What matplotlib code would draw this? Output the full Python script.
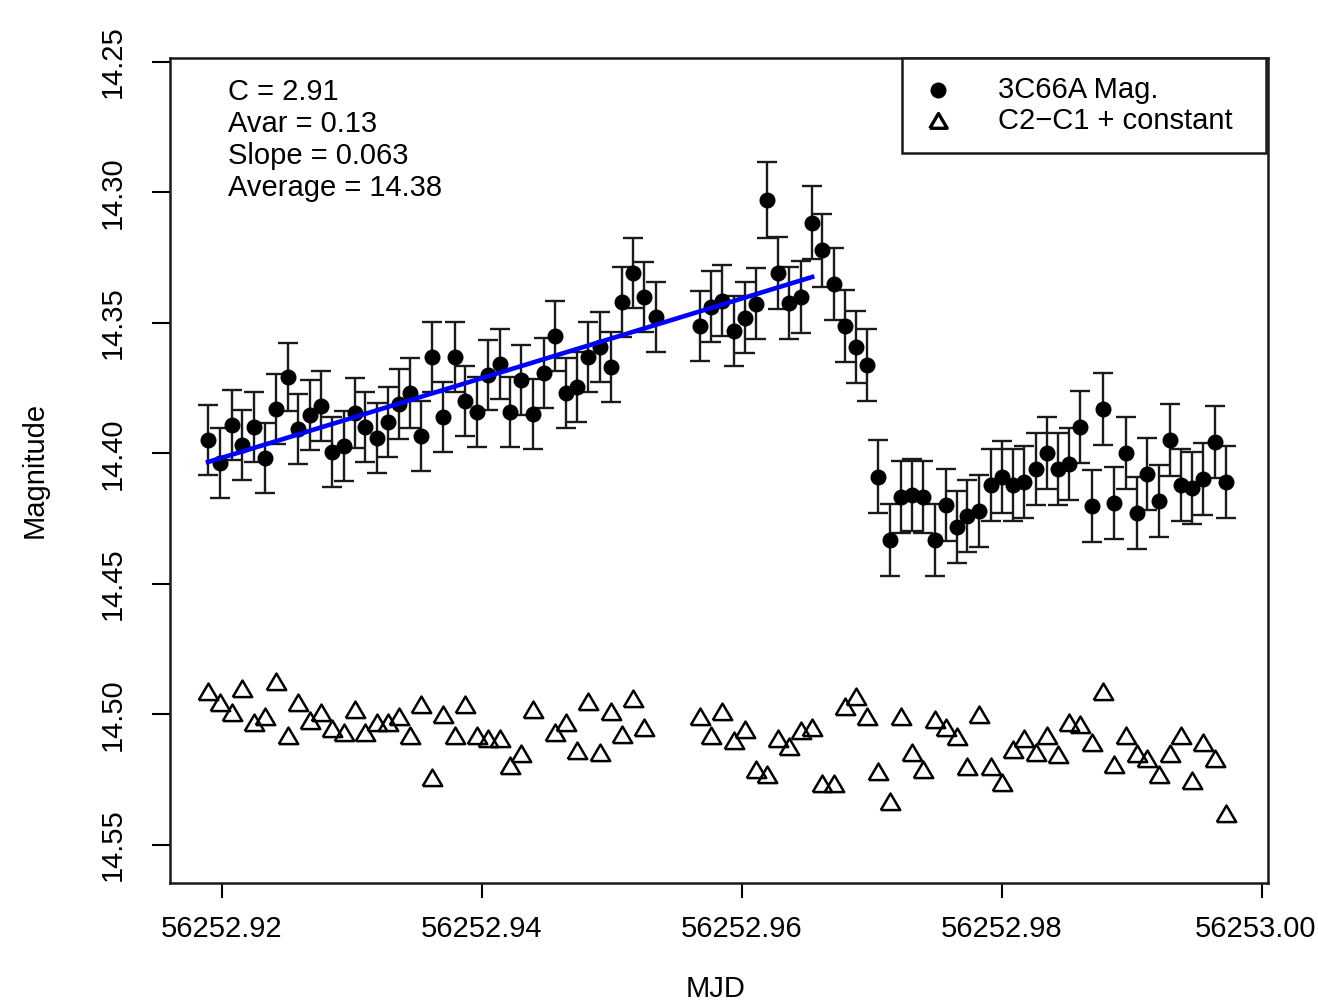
import numpy as np
import matplotlib
matplotlib.use("Agg")
import matplotlib.pyplot as plt
from matplotlib.patches import Rectangle
from matplotlib.lines import Line2D

plt.rcParams['font.family'] = ['Liberation Sans', 'DejaVu Sans']

# time stamps (MJD) of each frame
mjd = [56252.91896, 56252.91988, 56252.92081, 56252.92158, 56252.92250,
       56252.92335, 56252.92419, 56252.92511, 56252.92588, 56252.92681,
       56252.92765, 56252.92850, 56252.92942, 56252.93027, 56252.93104,
       56252.93196, 56252.93280, 56252.93365, 56252.93450, 56252.93534,
       56252.93619, 56252.93703, 56252.93796, 56252.93873, 56252.93965,
       56252.94049, 56252.94142, 56252.94219, 56252.94303, 56252.94395,
       56252.94480, 56252.94565, 56252.94649, 56252.94734, 56252.94818,
       56252.94911, 56252.94995, 56252.95080, 56252.95164, 56252.95249,
       56252.95341,
       56252.95680, 56252.95764, 56252.95849, 56252.95941, 56252.96026,
       56252.96110, 56252.96195, 56252.96280, 56252.96364, 56252.96456,
       56252.96541, 56252.96618, 56252.96710, 56252.96795, 56252.96879,
       56252.96964, 56252.97048, 56252.97141, 56252.97225, 56252.97310,
       56252.97395, 56252.97487, 56252.97571, 56252.97656, 56252.97733,
       56252.97825, 56252.97917, 56252.98002, 56252.98087, 56252.98171,
       56252.98264, 56252.98348, 56252.98433, 56252.98517, 56252.98602,
       56252.98694, 56252.98779, 56252.98863, 56252.98956, 56252.99040,
       56252.99117, 56252.99209, 56252.99294, 56252.99379, 56252.99463,
       56252.99548, 56252.99640, 56252.99725]

# 3C66A magnitude
mag = [14.3948, 14.4036, 14.3891, 14.3967, 14.3899, 14.4017, 14.3830, 14.3707, 14.3906, 14.3853,
       14.3818, 14.3994, 14.3971, 14.3845, 14.3899, 14.3941, 14.3879, 14.3810, 14.3768, 14.3933,
       14.3630, 14.3860, 14.3630, 14.3799, 14.3841, 14.3699, 14.3657, 14.3841, 14.3718, 14.3849,
       14.3692, 14.3550, 14.3768, 14.3745, 14.3630, 14.3592, 14.3669, 14.3420, 14.3309, 14.3401,
       14.3477,
       14.3512, 14.3439, 14.3416, 14.3531, 14.3481, 14.3427, 14.3029, 14.3309, 14.3424, 14.3401,
       14.3117, 14.3221, 14.3351, 14.3512, 14.3592, 14.3661, 14.4090, 14.4331, 14.4167, 14.4159,
       14.4167, 14.4331, 14.4197, 14.4282, 14.4239, 14.4220, 14.4121, 14.4090, 14.4121, 14.4109,
       14.4059, 14.3998, 14.4059, 14.4040, 14.3899, 14.4201, 14.3830, 14.4190, 14.3998, 14.4228,
       14.4079, 14.4182, 14.3948, 14.4121, 14.4132, 14.4098, 14.3956, 14.4109]

# 1-sigma errors on mag
err = [0.0134, 0.0134, 0.0133, 0.0133, 0.0133, 0.0133, 0.0133, 0.0131, 0.0133, 0.0133,
       0.0133, 0.0133, 0.0133, 0.0133, 0.0133, 0.0133, 0.0133, 0.0133, 0.0133, 0.0133,
       0.0133, 0.0133, 0.0133, 0.0133, 0.0133, 0.0133, 0.0133, 0.0133, 0.0133, 0.0133,
       0.0133, 0.0133, 0.0133, 0.0133, 0.0133, 0.0133, 0.0133, 0.0135, 0.0135, 0.0135,
       0.0135,
       0.0135, 0.0136, 0.0136, 0.0136, 0.0136, 0.0136, 0.0144, 0.0138, 0.0138, 0.0138,
       0.0140, 0.0140, 0.0138, 0.0138, 0.0138, 0.0138, 0.0140, 0.0138, 0.0138, 0.0138,
       0.0138, 0.0138, 0.0138, 0.0138, 0.0138, 0.0138, 0.0138, 0.0138, 0.0138, 0.0138,
       0.0138, 0.0138, 0.0138, 0.0138, 0.0138, 0.0138, 0.0138, 0.0138, 0.0138, 0.0138,
       0.0138, 0.0138, 0.0138, 0.0138, 0.0138, 0.0138, 0.0138, 0.0138]

# comparison stars C2-C1 + constant (nan where no value)
comp = [14.4914, 14.4956, 14.4994, 14.4902, 14.5033, 14.5010, 14.4876, 14.5082, 14.4956, 14.5025,
        14.4994, 14.5056, 14.5071, 14.4983, 14.5071, 14.5033, 14.5033, 14.5010, 14.5082, 14.4964,
        14.5243, 14.5002, 14.5082, 14.4964, 14.5082, 14.5094, 14.5094, 14.5197, 14.5151, 14.4983,
        np.nan, 14.5071, 14.5033, 14.5140, 14.4952, 14.5147, 14.4990, 14.5079, 14.4941, 14.5052,
        np.nan,
        14.5010, 14.5082, 14.4990, 14.5102, 14.5059, 14.5213, 14.5232, 14.5094, 14.5124, 14.5063,
        14.5052, 14.5266, 14.5266, 14.4971, 14.4933, 14.5010, 14.5220, 14.5335, 14.5010, 14.5147,
        14.5213, 14.5021, 14.5052, 14.5086, 14.5201, 14.5002, 14.5201, 14.5262, 14.5136, 14.5094,
        14.5147, 14.5082, 14.5155, 14.5033, 14.5040, 14.5109, 14.4914, 14.5193, 14.5082, 14.5151,
        14.5170, 14.5232, 14.5151, 14.5082, 14.5255, 14.5109, 14.5170, 14.5381]

# linear fit over the rising part
fit_x = [56252.91896, 56252.96541]
fit_y = [14.4033, 14.3324]

stats = ["C = 2.91", "Avar = 0.13", "Slope = 0.063", "Average = 14.38"]
xticks = [56252.92, 56252.94, 56252.96, 56252.98, 56253.00]
xticklabels = ["56252.92", "56252.94", "56252.96", "56252.98", "56253.00"]
yticks = [14.25, 14.30, 14.35, 14.40, 14.45, 14.50, 14.55]
yticklabels = ["14.25", "14.30", "14.35", "14.40", "14.45", "14.50", "14.55"]

fs = 21
tri = [(-1, -0.78), (0, 0.92), (1, -0.78), (-1, -0.78)]

fig = plt.figure(figsize=(13.18, 10.02), dpi=100)
ax = fig.add_axes([170 / 1318, 1 - 883 / 1002, 1098 / 1318, 825 / 1002])

ax.errorbar(mjd, mag, yerr=err, fmt='none', ecolor='#1a1a1a', elinewidth=1.7,
            capsize=7, capthick=1.7, zorder=2)
ax.plot(mjd, mag, 'o', color='black', markersize=10.5, zorder=3)
ax.plot(mjd, comp, linestyle='none', marker=tri, markersize=14,
        markerfacecolor='none', markeredgecolor='black', markeredgewidth=1.8, zorder=3)
ax.plot(fit_x, fit_y, color='#0000ff', linewidth=3.3, zorder=4)

ax.set_xlim(56252.91604, 56253.00046)
ax.set_ylim(14.5646, 14.2485)

# last x label would run off the right edge, so it is placed separately below
ax.set_xticks(xticks)
ax.set_xticklabels(xticklabels[:-1] + [""], fontsize=fs)
ax.set_yticks(yticks)
ax.set_yticklabels(yticklabels, fontsize=fs, rotation=90, va='center')
ax.tick_params(axis='x', length=11, width=1.5, pad=12)
ax.tick_params(axis='y', length=13, width=1.5, pad=18)
for s in ax.spines.values():
    s.set_linewidth(1.8)
    s.set_color('#1a1a1a')

fig.text(1316 / 1318, 1 - 914.7 / 1002, xticklabels[-1], ha='right', va='top', fontsize=fs)

fig.text(35 / 1318, 1 - 470 / 1002, "Magnitude", rotation=90, ha='center', va='center', fontsize=fs)
fig.text(716 / 1318, 5 / 1002, "MJD", ha='center', va='baseline', fontsize=fs)

# stats text
for i, s in enumerate(stats):
    ax.text(0.0528, 0.9588 - i * 0.0388, s, transform=ax.transAxes, ha='left', va='center', fontsize=fs)

# legend box drawn R style
ax.add_patch(Rectangle((0.6667, 0.8848), 0.3315, 0.1152, transform=ax.transAxes,
                       facecolor='white', edgecolor='#1a1a1a', linewidth=1.8, zorder=5, clip_on=False))
ax.add_line(Line2D([0.6995], [0.9612], transform=ax.transAxes, marker='o', color='black',
                   markersize=10.5, linestyle='none', zorder=6))
ax.add_line(Line2D([0.6995], [0.9236], transform=ax.transAxes, marker=tri, markersize=12.5,
                   markerfacecolor='none', markeredgecolor='black', markeredgewidth=2.4,
                   linestyle='none', zorder=6))
ax.text(0.7541, 0.9612, "3C66A Mag.", transform=ax.transAxes, ha='left', va='center', fontsize=fs, zorder=6)
ax.text(0.7541, 0.9236, "C2\u2212C1 + constant", transform=ax.transAxes, ha='left', va='center',
        fontsize=fs, zorder=6)

fig.savefig("out.png", dpi=100)
